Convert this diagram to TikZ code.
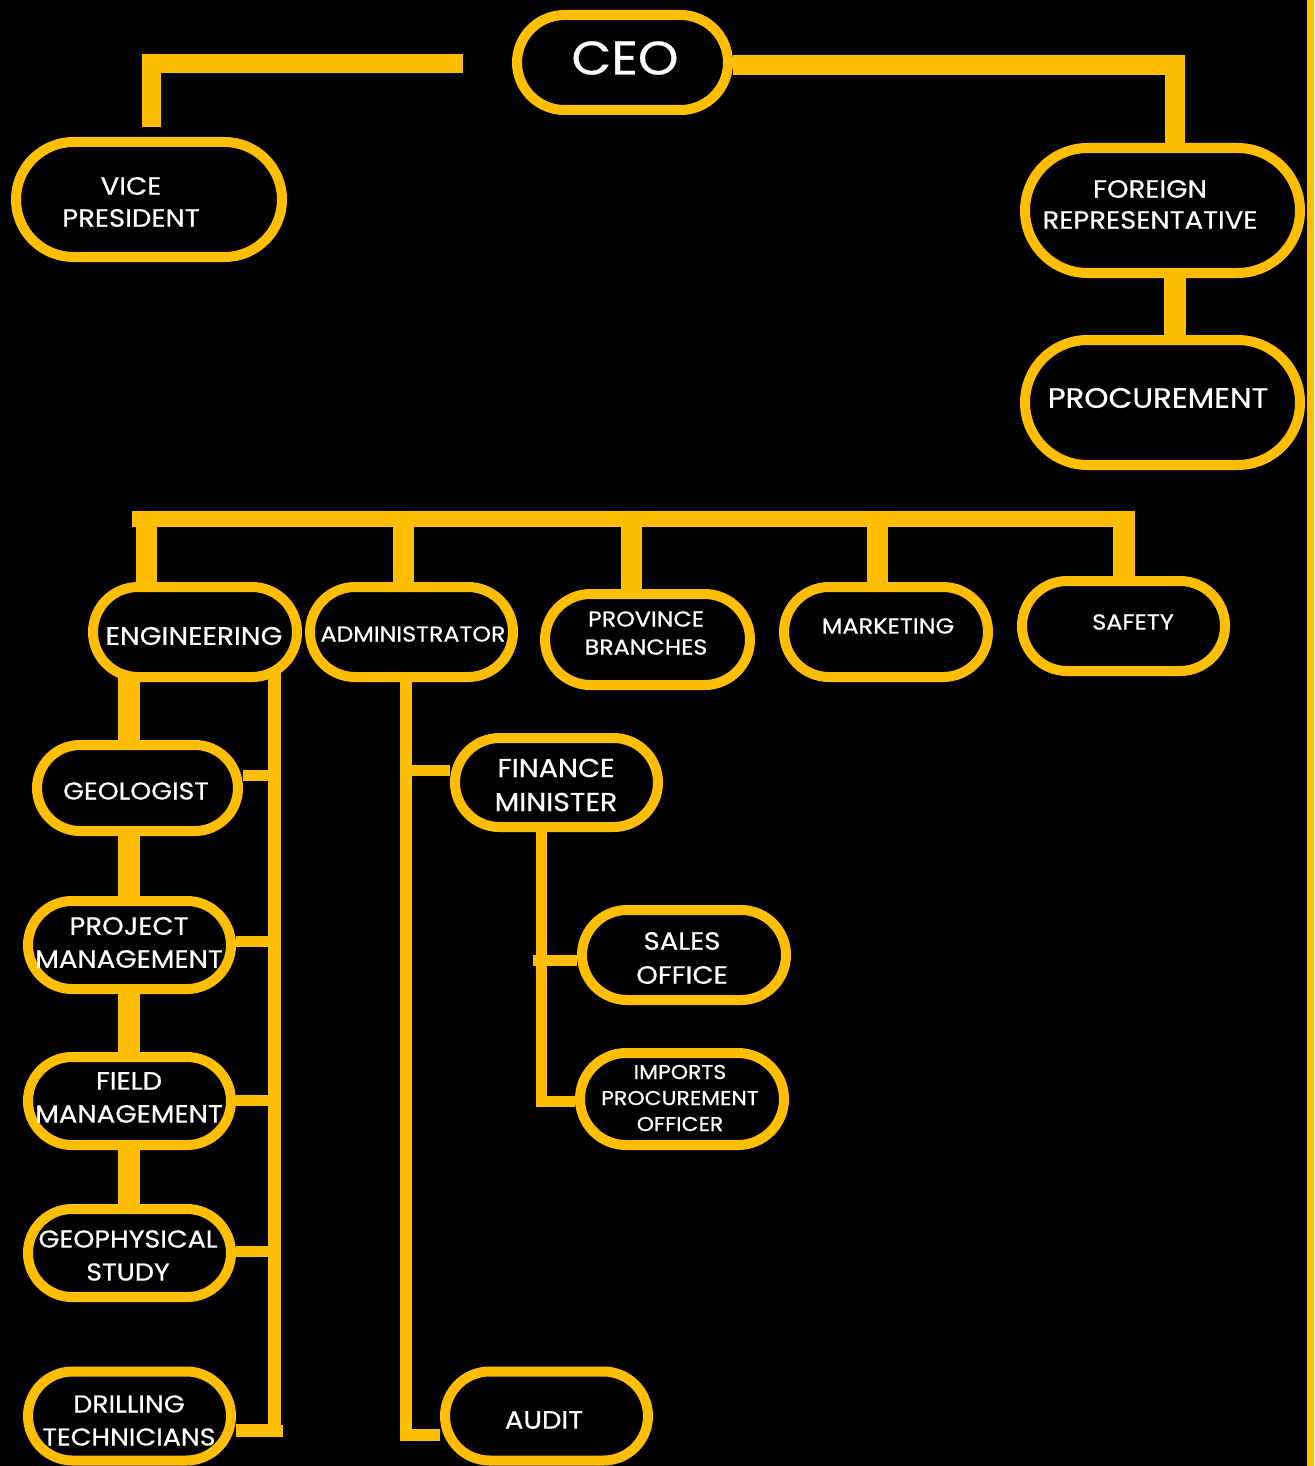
\documentclass[tikz,border=0pt]{standalone}
\usepackage{fontspec}
\setmainfont{Poppins}[FakeStretch=1.1, FakeBold=0.6]
\usetikzlibrary{shapes.misc}
\definecolor{gold}{RGB}{255,190,0}
\begin{document}
\begin{tikzpicture}[x=1pt,y=-1pt,
  box/.style={draw=gold, line width=10pt, rounded rectangle, fill=black, inner sep=0pt},
  txt/.style={text=white, align=center, inner sep=0pt},
  thickbar/.style={draw=gold, line width=20pt},
  midbar/.style={draw=gold, line width=16pt},
  thinbar/.style={draw=gold, line width=12pt},
  stub/.style={draw=gold, line width=11pt},
  fs/.style 2 args={font=\fontsize{#1}{#2}\selectfont}
]
% background
\fill[black] (0,0) rectangle (1314,1466);
\fill[gold] (1307,0) rectangle (1314,1466);

% boxes
\node[box, minimum width=211pt, minimum height=95pt] (ceo) at (622.5,62.5) {};
\node[box, minimum width=266pt, minimum height=115pt] (vp) at (149,199.5) {};
\node[box, minimum width=275pt, minimum height=125pt] (fr) at (1162.5,210.5) {};
\node[box, minimum width=275pt, minimum height=125pt] (proc) at (1162.5,402.5) {};
\node[box, minimum width=204pt, minimum height=90pt] (eng) at (195,632) {};
\node[box, minimum width=203pt, minimum height=90pt] (adm) at (411.5,632) {};
\node[box, minimum width=205pt, minimum height=91pt] (prov) at (647.5,639.5) {};
\node[box, minimum width=204pt, minimum height=90pt] (mkt) at (886,632) {};
\node[box, minimum width=203pt, minimum height=90pt] (saf) at (1123.5,626) {};
\node[box, minimum width=201pt, minimum height=86pt] (geo) at (137.5,788) {};
\node[box, minimum width=203pt, minimum height=88pt] (pm) at (129.5,945) {};
\node[box, minimum width=203pt, minimum height=88pt] (fm) at (129.5,1101) {};
\node[box, minimum width=203pt, minimum height=88pt] (gs) at (129.5,1253) {};
\node[box, minimum width=203pt, minimum height=89pt] (dt) at (129.5,1416) {};
\node[box, minimum width=203pt, minimum height=89pt] (fin) at (556.5,782.5) {};
\node[box, minimum width=204pt, minimum height=90pt] (sales) at (684,955) {};
\node[box, minimum width=204pt, minimum height=92pt] (imp) at (682,1099) {};
\node[box, minimum width=203pt, minimum height=89pt] (aud) at (546.5,1416) {};

% texts
\node[txt, fs={47}{47}] (ceoT) at (625,58) {CEO};
\node[txt, fs={25}{32}] (vpT) at (131,202) {VICE\\PRESIDENT};
\node[txt, fs={25}{31}] (frT) at (1150,204.5) {FOREIGN\\REPRESENTATIVE};
\node[txt, fs={28}{28}] (procT) at (1158,398) {PROCUREMENT};
\node[txt, fs={25.5}{25.5}] (engT) at (194,636) {ENGINEERING};
\node[txt, fs={21.6}{21.6}] (admT) at (413,634) {ADMINISTRATOR};
\node[txt, fs={21.6}{28}] (provT) at (646,633) {PROVINCE\\BRANCHES};
\node[txt, fs={21.8}{21.8}] (mktT) at (888,626) {MARKETING};
\node[txt, fs={21.8}{21.8}] (safT) at (1133,622) {SAFETY};
\node[txt, fs={24.3}{24.3}] (geoT) at (136,791) {GEOLOGIST};
\node[txt, fs={25}{33}] (pmT) at (129,942.5) {PROJECT\\MANAGEMENT};
\node[txt, fs={25}{33}] (fmT) at (129,1097.5) {FIELD\\MANAGEMENT};
\node[txt, fs={24.5}{33}] (gsT) at (128,1255.5) {GEOPHYSICAL\\STUDY};
\node[txt, fs={24.4}{33}] (dtT) at (129,1420.5) {DRILLING\\TECHNICIANS};
\node[txt, fs={25.9}{34}] (finT) at (556,785) {FINANCE\\MINISTER};
\node[txt, fs={25}{34}] (salesT) at (682,958) {SALES\\OFFICE};
\node[txt, fs={20}{26}] (impT) at (680,1098) {IMPORTS\\PROCUREMENT\\OFFICER};
\node[txt, fs={25}{25}] (audT) at (544,1420) {AUDIT};

% top connectors
\coordinate (ceoL) at (463,64);
\coordinate (vpTop) at (151,127);
\draw[thickbar, line width=19pt] (ceoL) -| (vpTop);
\coordinate (frCol) at (1175,65);
\draw[thickbar] (ceo.east |- frCol) -| (fr.north -| frCol);
\draw[thickbar, line width=22pt] (fr.south -| frCol) -- (proc.north -| frCol);

% main horizontal bar and drops
\coordinate (barL) at (132,519);
\coordinate (barR) at (1135,519);
\draw[midbar] (barL) -- (barR);
\coordinate (dA) at (146.5,511);
\coordinate (dB) at (403.5,511);
\coordinate (dC) at (631.5,511);
\coordinate (dD) at (877.5,511);
\coordinate (dE) at (1124,511);
\draw[thickbar, line width=21pt] (dA) -- (dA |- eng.north);
\draw[thickbar, line width=21pt] (dB) -- (dB |- adm.north);
\draw[thickbar, line width=21pt] (dC) -- (dC |- prov.north);
\draw[thickbar, line width=21pt] (dD) -- (dD |- mkt.north);
\draw[thickbar, line width=22pt] (dE) -- (dE |- saf.north);

% engineering chain
\coordinate (engCol) at (129,673);
\draw[thickbar, line width=22pt] (engCol) -- (engCol |- geo.north);
\draw[thickbar, line width=22pt] (geo.south -| engCol) -- (pm.north -| engCol);
\draw[thickbar, line width=22pt] (pm.south -| engCol) -- (fm.north -| engCol);
\draw[thickbar, line width=22pt] (fm.south -| engCol) -- (gs.north -| engCol);

% engineering side rail
\coordinate (engR) at (274.5,672);
\coordinate (s1) at (281,775.5);
\coordinate (s2) at (274.5,941.5);
\coordinate (s3) at (274.5,1100.5);
\coordinate (s4) at (274.5,1251.5);
\coordinate (s5) at (283,1430.5);
\draw[thinbar, line width=13pt] (engR) |- (dt.east |- s5) ;
\draw[thinbar] (engR |- s5) -- (s5);
\draw[stub] (geo.east |- s1) -- (s1);
\draw[stub] (pm.east |- s2) -- (s2);
\draw[stub] (fm.east |- s3) -- (s3);
\draw[stub] (gs.east |- s4) -- (s4);

% administrator rail
\coordinate (aCol) at (405.5,0);
\coordinate (audY) at (0,1434.5);
\coordinate (finY) at (0,770.5);
\draw[thinbar] (adm.south -| aCol) |- (aud.west |- audY);
\draw[stub] (aCol |- finY) -- (fin.west |- finY);

% finance rail
\coordinate (fCol) at (541.5,0);
\coordinate (impY) at (0,1101);
\coordinate (salesS) at (533,960.5);
\draw[stub] (fin.south -| fCol) |- (imp.west |- impY);
\draw[stub] (salesS) -- (sales.west |- salesS);
\end{tikzpicture}
\end{document}
